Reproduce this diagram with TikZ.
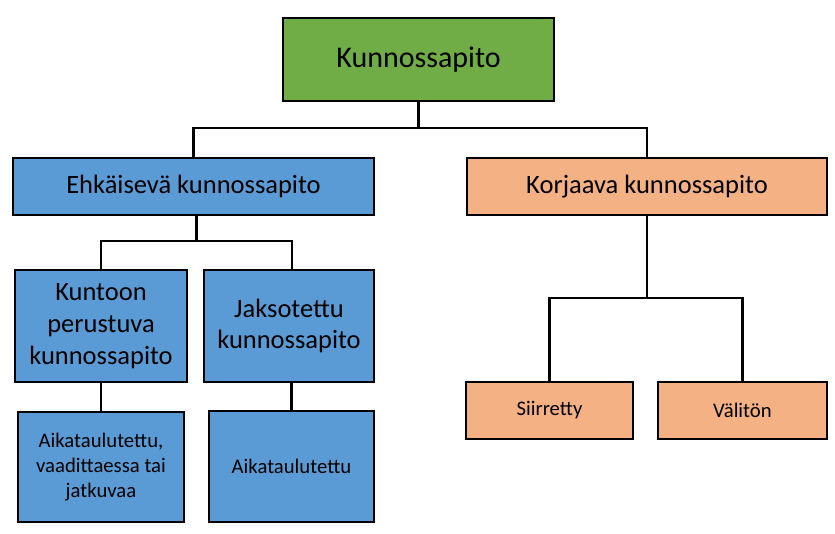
\documentclass[tikz,border=0pt]{standalone}
\usepackage{fontspec}
\setmainfont{Carlito}
\definecolor{cgreen}{HTML}{70AD47}
\definecolor{cblue}{HTML}{5B9BD5}
\definecolor{corange}{HTML}{F4B183}
\begin{document}
\begin{tikzpicture}[x=1pt,y=-1pt,
  box/.style={draw=black, line width=2.8pt, inner sep=0pt, outer sep=0pt, align=center, text=black},
  conn/.style={draw=black, line width=2.8pt},
  big/.style={font=\fontsize{30}{36}\selectfont},
  mid/.style={font=\fontsize{26.5}{31.8}\selectfont},
  small/.style={font=\fontsize{20.7}{24.7}\selectfont}]
\useasboundingbox (0,0) rectangle (835,534);
\node[box, big, fill=cgreen, minimum width=271pt, minimum height=83pt] (top) at (418.5,59.5) {Kunnossapito};
\node[box, mid, fill=cblue, minimum width=361pt, minimum height=57pt] (ehk) at (193.5,186.5) {Ehkäisevä kunnossapito};
\node[box, mid, fill=corange, minimum width=360pt, minimum height=57pt] (kor) at (647,186.5) {Korjaava kunnossapito};
\node[box, mid, fill=cblue, minimum width=172pt, minimum height=112pt] (kunt) at (101,326) {Kuntoon\\perustuva\\kunnossapito};
\node[box, mid, fill=cblue, minimum width=170pt, minimum height=112pt] (jaks) at (289,326) {Jaksotettu\\kunnossapito};
\node[box, small, fill=cblue, minimum width=166pt, minimum height=110pt] (aik1) at (101,467) {Aikataulutettu,\\vaadittaessa tai\\jatkuvaa};
\node[box, small, fill=cblue, minimum width=165pt, minimum height=111pt] (aik2) at (291.5,466.5) {Aikataulutettu};
\node[box, small, fill=corange, minimum width=167pt, minimum height=57pt] (sii) at (549.5,410.5) {Siirretty};
\node[box, small, fill=corange, minimum width=169pt, minimum height=57pt] (val) at (742.5,410.5) {Välitön};
\coordinate (j1) at (419,128);
\coordinate (j2) at (197,241);
\coordinate (j3) at (647,298);
\draw[conn] (top.south) -- (top.south |- j1) -| (ehk.north);
\draw[conn] (top.south |- j1) -| (kor.north);
\draw[conn] ([xshift=3pt]ehk.south) -- ([xshift=3pt]ehk.south |- j2) -| (kunt.north);
\draw[conn] ([xshift=3pt]ehk.south |- j2) -| ([xshift=3pt]jaks.north);
\draw[conn] (kunt.south) -- (aik1.north);
\draw[conn] (aik2.north) -- (aik2.north |- jaks.south);
\draw[conn] (kor.south) -- (kor.south |- j3) -| (sii.north);
\draw[conn] (kor.south |- j3) -| (val.north);
\end{tikzpicture}
\end{document}
